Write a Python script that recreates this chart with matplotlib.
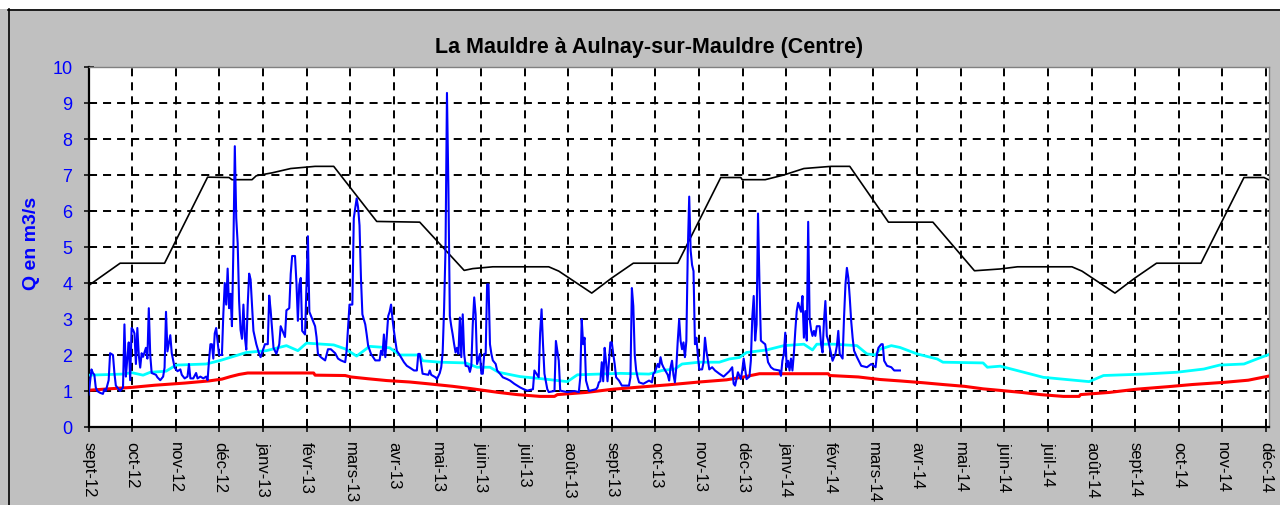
import numpy as np
import matplotlib
matplotlib.use('Agg')
import matplotlib.pyplot as plt
from matplotlib.lines import Line2D
from matplotlib.patches import Rectangle

# ---------------- data ----------------
title = "La Mauldre à Aulnay-sur-Mauldre (Centre)"
y_label = "Q en m3/s"
month_labels = ['sept-12', 'oct-12', 'nov-12', 'déc-12', 'janv-13', 'févr-13', 'mars-13',
                'avr-13', 'mai-13', 'juin-13', 'juil-13', 'août-13', 'sept-13', 'oct-13',
                'nov-13', 'déc-13', 'janv-14', 'févr-14', 'mars-14', 'avr-14', 'mai-14',
                'juin-14', 'juil-14', 'août-14', 'sept-14', 'oct-14', 'nov-14', 'déc-14']

# daily flow (days since 1 Sept 2012, m3/s)
flow_days = [0, 2, 3, 4, 5, 6, 8, 10, 11, 12, 14, 15, 17, 18, 19, 22, 24, 25, 26, 27, 28, 29, 30, 31,
             32, 33, 34, 35, 36, 37, 38, 40, 41, 42, 43, 44, 47, 48, 50, 52, 53, 54, 55, 57, 58, 60,
             62, 64, 65, 67, 69, 70, 71, 73, 75, 76, 78, 80, 82, 83, 84, 85, 86, 87, 88, 89, 91, 93,
             94, 95, 96, 97, 98, 99, 100, 101, 102, 103, 104, 105, 106, 107, 108, 109, 110, 111, 112,
             113, 115, 117, 119, 120, 123, 125, 126, 127, 129, 131, 133, 134, 137, 138, 140, 141, 142,
             144, 145, 146, 147, 148, 149, 151, 152, 153, 154, 156, 158, 159, 160, 162, 165, 167, 169,
             172, 174, 176, 179, 180, 181, 182, 184, 185, 187, 188, 189, 190, 191, 193, 194, 195, 197,
             200, 203, 204, 205, 206, 207, 209, 210, 211, 212, 213, 215, 217, 220, 222, 224, 227, 229,
             230, 231, 232, 233, 237, 238, 239, 242, 243, 245, 246, 247, 248, 249, 250, 251, 252, 253,
             254, 255, 256, 257, 258, 259, 260, 261, 262, 263, 265, 266, 267, 268, 269, 270, 271, 273,
             274, 275, 276, 277, 278, 279, 280, 281, 282, 284, 285, 287, 289, 292, 294, 297, 301, 303,
             306, 310, 311, 314, 315, 316, 317, 318, 320, 321, 325, 326, 328, 329, 334, 339, 342, 343,
             344, 345, 346, 347, 349, 354, 355, 356, 357, 358, 359, 360, 361, 362, 363, 364, 365, 366,
             367, 368, 370, 372, 377, 378, 379, 380, 381, 382, 383, 384, 387, 391, 393, 394, 395, 397,
             398, 399, 400, 401, 404, 405, 406, 407, 408, 409, 410, 411, 412, 413, 414, 415, 416, 417,
             418, 419, 420, 421, 422, 423, 424, 425, 426, 428, 429, 430, 431, 433, 435, 437, 440, 443,
             447, 449, 450, 451, 452, 453, 455, 456, 457, 459, 461, 462, 463, 464, 465, 466, 467, 468,
             469, 471, 472, 474, 476, 478, 482, 483, 484, 485, 486, 487, 488, 489, 490, 491, 492, 493,
             494, 495, 497, 498, 499, 500, 501, 502, 503, 504, 505, 506, 507, 508, 510, 511, 512, 513,
             514, 515, 516, 518, 519, 521, 522, 523, 524, 526, 527, 528, 529, 530, 531, 532, 533, 534,
             536, 539, 543, 546, 549, 550, 551, 553, 554, 555, 557, 560, 562, 566]
flow_values = [0.9, 1.6, 1.5, 1.45, 1.1, 1.0, 0.95, 0.92, 1.05, 1.0, 1.3, 2.05, 2.0, 1.5, 1.15, 1.0,
               1.1, 2.85, 1.4, 1.9, 2.35, 1.3, 2.75, 2.7, 2.6, 1.75, 2.75, 2.0, 1.65, 2.05, 1.95, 2.2,
               1.9, 3.3, 2.0, 1.5, 1.45, 1.38, 1.3, 1.4, 1.65, 3.2, 2.1, 2.55, 2.05, 1.65, 1.55, 1.6,
               1.45, 1.35, 1.4, 1.75, 1.35, 1.35, 1.5, 1.35, 1.4, 1.35, 1.4, 1.3, 1.85, 2.3, 2.3, 1.9,
               2.6, 2.75, 2.0, 2.0, 3.15, 4.0, 3.4, 4.4, 3.3, 3.7, 2.8, 4.95, 7.8, 5.8, 5.1, 3.5, 2.7,
               2.45, 3.4, 2.5, 2.15, 3.4, 4.26, 4.1, 2.67, 2.3, 2.03, 1.94, 2.3, 2.3, 3.65, 3.24, 2.2,
               2.03, 2.3, 2.8, 2.5, 3.24, 3.3, 4.25, 4.75, 4.75, 4.0, 2.95, 3.96, 4.14, 2.67, 2.57,
               3.96, 5.3, 3.2, 3.0, 2.8, 2.5, 2.03, 1.94, 1.85, 2.16, 2.16, 2.05, 1.9, 1.85, 1.8, 2.12,
               2.76, 3.4, 3.4, 5.8, 6.35, 6.1, 5.6, 4.14, 3.13, 2.85, 2.57, 2.26, 2.03, 1.85, 1.85,
               2.12, 2.0, 2.57, 1.94, 3.08, 3.2, 3.4, 3.0, 2.67, 2.12, 2.0, 1.8, 1.7, 1.65, 1.57, 1.57,
               2.03, 2.03, 1.75, 1.48, 1.45, 1.57, 1.45, 1.38, 1.33, 1.5, 1.66, 2.07, 3.3, 4.97, 9.28,
               6.63, 3.08, 2.8, 2.57, 2.3, 2.07, 2.2, 2.03, 3.04, 1.94, 3.13, 2.03, 1.7, 1.68, 1.53,
               1.7, 2.85, 3.6, 3.13, 1.75, 2.03, 1.48, 1.48, 2.03, 2.03, 3.96, 3.96, 2.3, 2.03, 1.85,
               1.75, 1.57, 1.48, 1.38, 1.33, 1.29, 1.2, 1.1, 1.06, 1.01, 1.05, 1.57, 1.38, 2.62, 3.27,
               2.3, 1.48, 1.05, 0.97, 1.0, 2.39, 1.84, 1.01, 0.97, 1.0, 0.97, 1.38, 2.99, 2.3, 2.48,
               1.29, 1.0, 1.05, 1.1, 1.24, 1.27, 1.8, 1.27, 2.2, 1.8, 1.27, 1.8, 2.35, 2.35, 2.03, 1.75,
               1.38, 1.29, 1.15, 1.15, 1.38, 3.86, 3.36, 2.0, 1.57, 1.38, 1.24, 1.2, 1.29, 1.24, 1.48,
               1.52, 1.75, 1.66, 1.94, 1.75, 1.66, 1.45, 1.29, 1.66, 1.84, 1.45, 1.24, 1.66, 2.39, 2.99,
               2.39, 2.16, 2.35, 1.94, 2.39, 4.88, 6.4, 4.9, 4.5, 4.33, 2.3, 2.48, 2.0, 1.6, 1.6, 1.8,
               2.48, 2.12, 1.6, 1.66, 1.57, 1.48, 1.4, 1.55, 1.66, 1.2, 1.15, 1.33, 1.52, 1.33, 1.57,
               1.9, 1.33, 1.4, 1.84, 3.04, 3.64, 2.4, 2.85, 5.93, 4.0, 2.4, 2.33, 2.3, 1.8, 1.66, 1.6,
               1.57, 1.42, 1.84, 2.03, 2.62, 1.66, 1.84, 1.57, 1.9, 1.57, 2.03, 2.67, 3.22, 3.45, 3.2,
               3.64, 2.48, 3.22, 2.4, 5.7, 3.0, 2.7, 2.53, 2.67, 2.53, 2.8, 2.8, 2.3, 2.07, 2.94, 3.5,
               2.53, 2.4, 2.03, 1.84, 2.03, 2.25, 2.67, 2.03, 1.9, 3.04, 3.96, 4.42, 4.14, 3.59, 2.94,
               2.48, 2.12, 1.94, 1.7, 1.66, 1.75, 1.66, 2.03, 2.2, 2.3, 2.3, 1.84, 1.7, 1.66, 1.57, 1.57]

# monthly reference curves (black, cyan, red)
max_days = [0, 22, 53, 83, 98, 100, 114, 117, 128, 141, 158, 171, 201, 231, 262, 268, 282, 321, 328,
            351, 365, 380, 411, 441, 455, 456, 472, 485, 499, 518, 531, 558, 589, 618, 636, 648, 686,
            693, 716, 730, 745, 776, 806, 820, 823]
max_values = [3.93, 4.55, 4.55, 6.94, 6.93, 6.87, 6.87, 6.98, 7.06, 7.18, 7.24, 7.24, 5.71, 5.69, 4.35,
              4.4, 4.45, 4.45, 4.33, 3.72, 4.14, 4.55, 4.55, 6.93, 6.93, 6.87, 6.87, 7.0, 7.18, 7.24,
              7.24, 5.69, 5.69, 4.34, 4.39, 4.45, 4.45, 4.33, 3.72, 4.14, 4.55, 4.55, 6.93, 6.93, 6.87]

median_days = [0, 24, 30, 38, 43, 54, 61, 82, 92, 110, 124, 138, 146, 152, 171, 179, 187, 196, 210,
               217, 231, 233, 245, 263, 271, 280, 286, 301, 314, 334, 341, 371, 391, 400, 409, 414,
               426, 440, 447, 454, 459, 473, 485, 499, 505, 508, 520, 536, 543, 549, 552, 560, 566,
               578, 592, 596, 624, 627, 636, 666, 698, 708, 736, 759, 778, 789, 806, 819, 824]
median_values = [1.44, 1.47, 1.51, 1.44, 1.52, 1.55, 1.72, 1.75, 1.85, 2.07, 2.12, 2.26, 2.12, 2.33,
                 2.28, 2.17, 1.97, 2.24, 2.2, 2.0, 2.0, 1.84, 1.8, 1.78, 1.66, 1.66, 1.52, 1.4, 1.35,
                 1.26, 1.45, 1.49, 1.47, 1.57, 1.61, 1.75, 1.8, 1.8, 1.89, 1.93, 2.07, 2.14, 2.26, 2.3,
                 2.14, 2.3, 2.3, 2.26, 2.03, 2.0, 2.16, 2.26, 2.21, 2.03, 1.89, 1.8, 1.78, 1.66, 1.69,
                 1.38, 1.26, 1.43, 1.47, 1.52, 1.61, 1.72, 1.75, 1.95, 2.02]

low_days = [0, 14, 30, 46, 67, 84, 93, 99, 105, 111, 157, 158, 179, 183, 195, 208, 224, 237, 254,
            266, 277, 286, 299, 315, 325, 327, 347, 366, 388, 404, 426, 445, 457, 468, 516, 517, 537,
            552, 566, 582, 596, 611, 624, 635, 651, 664, 680, 691, 692, 712, 731, 753, 770, 792, 809,
            824]
low_values = [1.02, 1.06, 1.1, 1.16, 1.22, 1.28, 1.33, 1.4, 1.46, 1.5, 1.5, 1.44, 1.43, 1.39, 1.34,
              1.29, 1.25, 1.2, 1.13, 1.07, 1.01, 0.96, 0.9, 0.85, 0.85, 0.9, 0.96, 1.05, 1.12, 1.17,
              1.25, 1.31, 1.39, 1.48, 1.48, 1.43, 1.39, 1.32, 1.28, 1.23, 1.18, 1.13, 1.06, 1.02, 0.96,
              0.9, 0.85, 0.85, 0.9, 0.96, 1.05, 1.12, 1.18, 1.24, 1.3, 1.42]

# ---------------- style ----------------
plt.rcParams['font.family'] = ['Liberation Sans', 'DejaVu Sans']
plt.rcParams['lines.scale_dashes'] = False

W, H = 1280, 506
MONTH = 30.42  # mean month length in days (axis months evenly spaced)

fig = plt.figure(figsize=(W / 100, H / 100), dpi=100, facecolor='#C0C0C0')
fig.add_artist(Rectangle((0, 1 - 10 / H), 1, 10 / H, transform=fig.transFigure,
                         facecolor='white', edgecolor='none', zorder=0))
fig.add_artist(Line2D([8 / W, 1], [1 - 10.5 / H] * 2, transform=fig.transFigure,
                      color='black', lw=1.2))
fig.add_artist(Line2D([8.5 / W] * 2, [0, 1 - 10 / H], transform=fig.transFigure,
                      color='black', lw=1.2))

ax = fig.add_axes([88.6 / W, 78 / H, (1269 - 88.6) / W, 360 / H])
ax.set_facecolor('white')

n_months = len(month_labels)
xticks = np.arange(n_months) * MONTH
ax.set_xlim(0, 27.07 * MONTH)
ax.set_ylim(0, 10)
ax.set_xticks(xticks)
ax.set_xticklabels(month_labels, rotation=270, ha='center', va='top')
ax.set_yticks(np.arange(0, 11))

ax.tick_params(direction='inout', length=7.5, width=1.1, color='black')
ax.tick_params(axis='y', pad=8, labelcolor='blue', labelsize=13)
ax.tick_params(axis='x', pad=6, labelsize=12, labelcolor='black')

dash = (0, (5.8, 4.3))
for yv in range(1, 10):
    ax.axhline(yv, color='black', lw=1.4, ls=dash, zorder=1)
for xv in xticks[1:]:
    ax.axvline(xv, color='black', lw=1.4, ls=dash, zorder=1)

ax.plot(low_days, low_values, color='red', lw=2.2, zorder=3)
ax.plot(median_days, median_values, color='cyan', lw=2.0, zorder=3)
ax.plot(max_days, max_values, color='black', lw=1.2, zorder=3)
ax.plot(flow_days, flow_values, color='blue', lw=1.5, zorder=4)

for s in ('left', 'bottom'):
    ax.spines[s].set_color('black')
    ax.spines[s].set_linewidth(1.6)
for s in ('top', 'right'):
    ax.spines[s].set_color('#808080')
    ax.spines[s].set_linewidth(1.0)

fig.text(649 / W, 1 - 48 / H, title, ha='center', va='center', fontsize=15.5,
         fontweight='bold', color='black')
fig.text(32 / W, 1 - 243 / H, y_label, rotation=90, ha='center', va='center',
         fontsize=14, fontweight='bold', color='blue')

fig.savefig('out.png', dpi=100, facecolor=fig.get_facecolor())
